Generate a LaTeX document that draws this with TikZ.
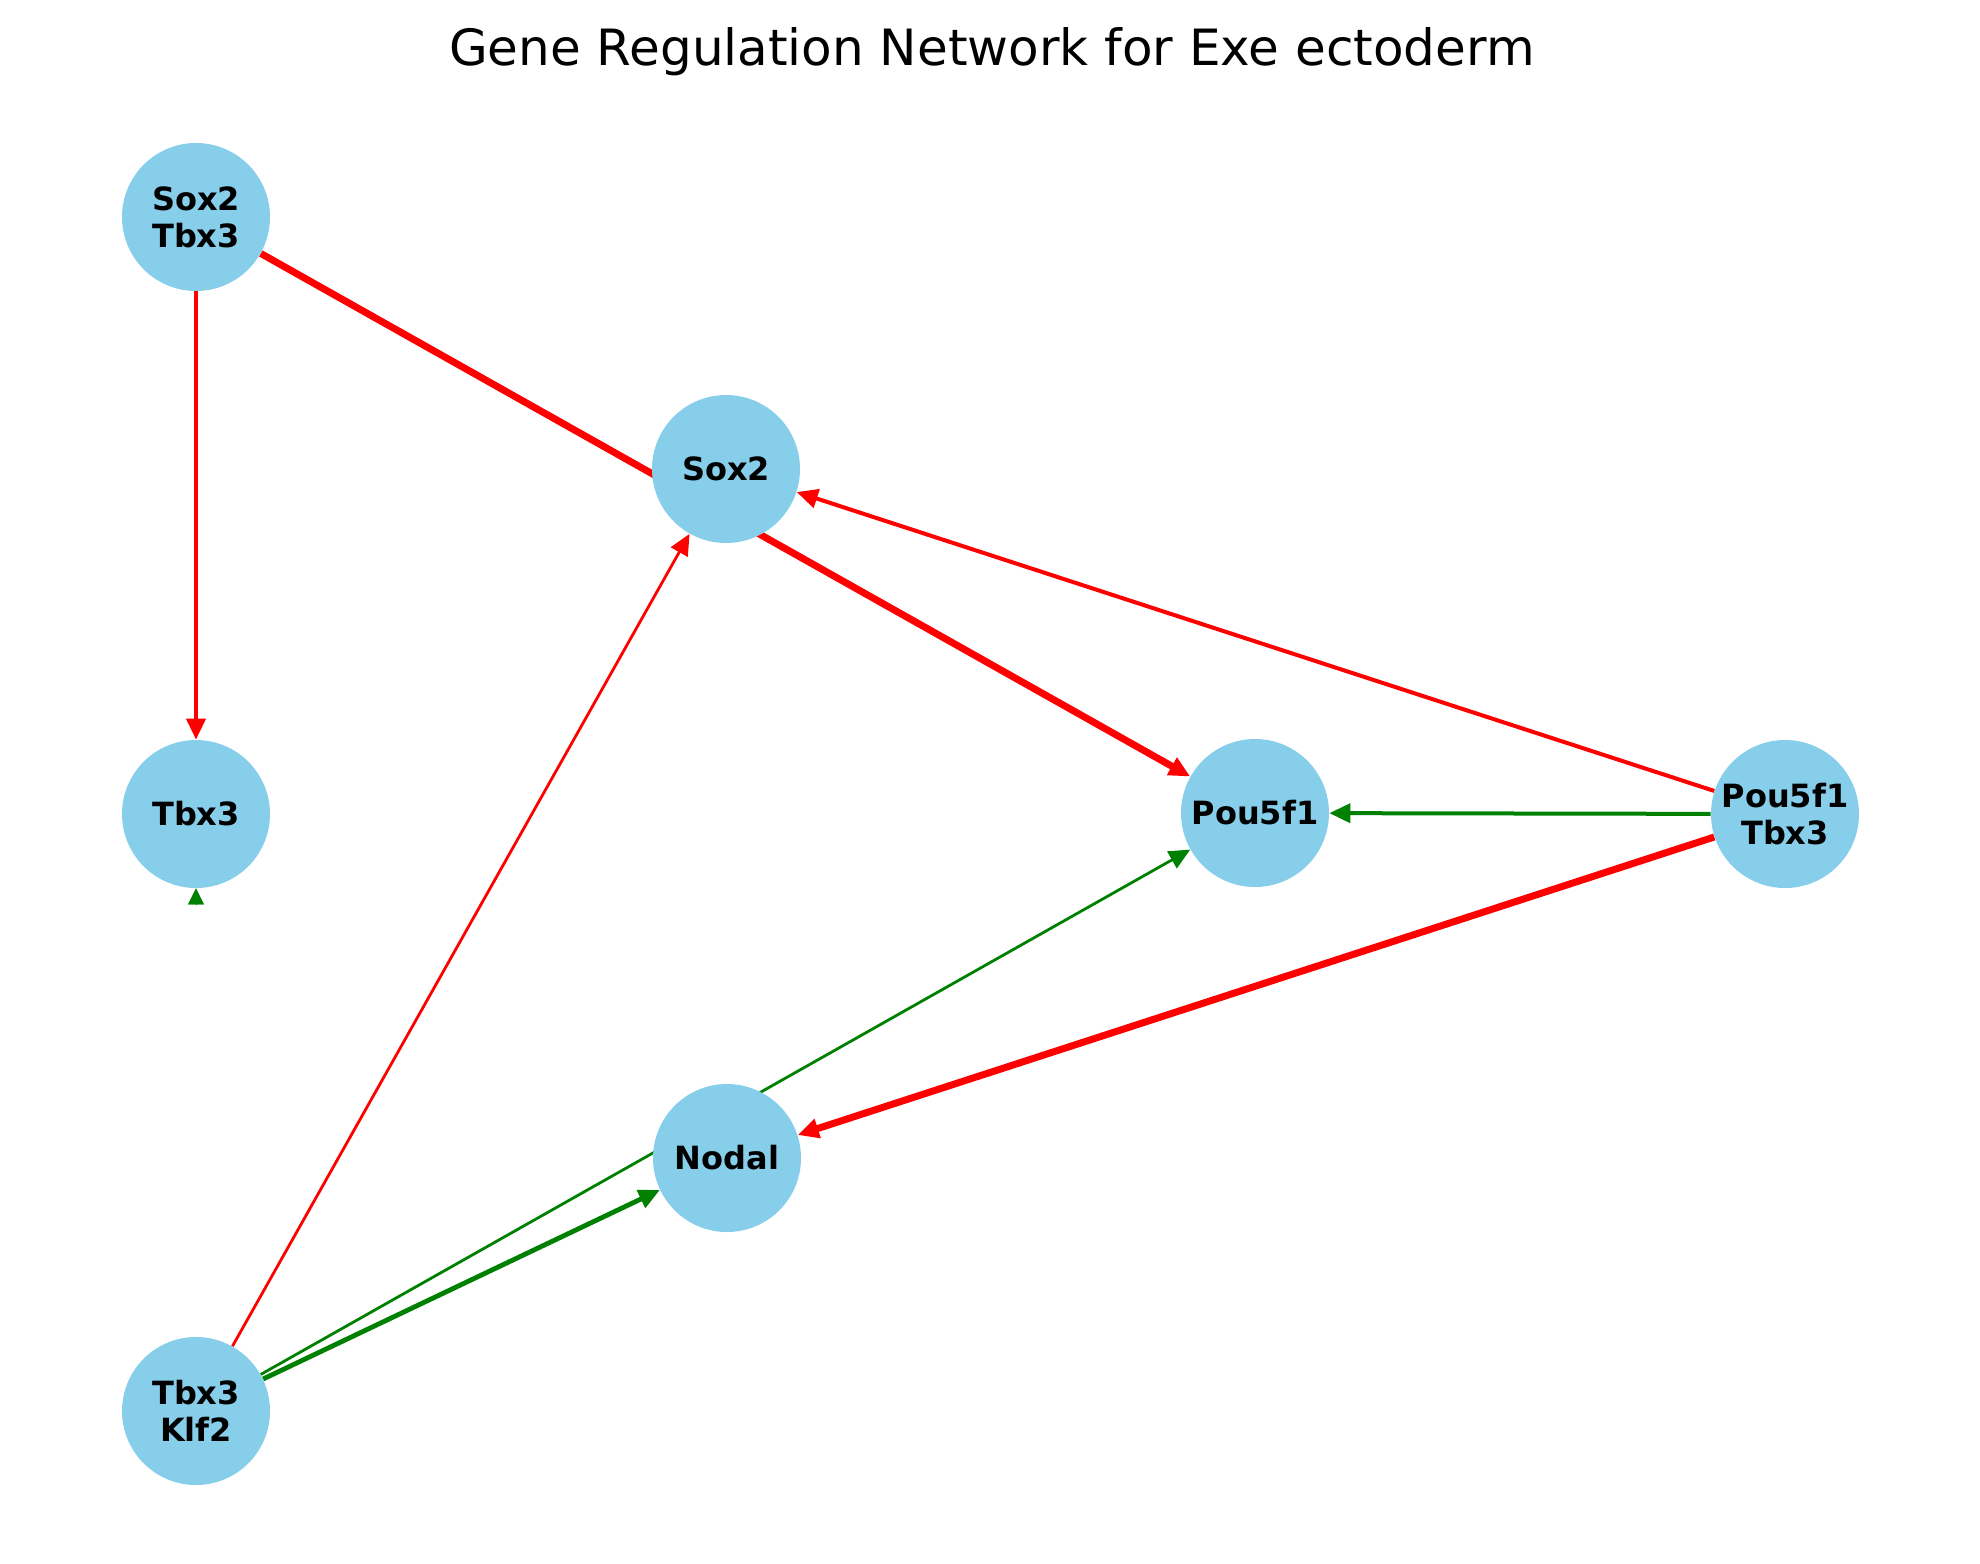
\documentclass[tikz,border=0pt]{standalone}
\usepackage{fontspec}
\setmainfont{DejaVu Sans}
\usetikzlibrary{arrows.meta,backgrounds}
\definecolor{skyblue}{HTML}{87CEEB}
\definecolor{edgered}{HTML}{FF0000}
\definecolor{edgegreen}{HTML}{008000}
\begin{document}
\begin{tikzpicture}[x=0.5pt, y=-0.5pt,
		gene/.style={circle, fill=skyblue, minimum size=74pt, inner sep=0pt, align=center,
			font=\fontsize{16}{18.5}\selectfont\bfseries},
		arr/.style={-{Triangle[length=10.5pt, width=9.5pt]}},
		wthick/.style={line width=3.5pt},
		wmid/.style={line width=2.4pt},
		wnorm/.style={line width=2pt},
		wthin/.style={line width=1.4pt}]
	\useasboundingbox (0,0) rectangle (1980,1563);
	
	\node[font=\fontsize{25}{29}\selectfont] at (992,52) (title) {Gene Regulation Network for Exe ectoderm};
	
	\node[gene] at (196,217) (st) {Sox2\\Tbx3};
	\node[gene] at (726,469) (sox) {Sox2};
	\node[gene] at (196,814) (tbx) {Tbx3};
	\node[gene] at (1255,813) (pou) {Pou5f1};
	\node[gene] at (1785,814) (pt) {Pou5f1\\Tbx3};
	\node[gene] at (727,1158) (nodal) {Nodal};
	\node[gene] at (196,1411) (tk) {Tbx3\\Klf2};
	\coordinate (loop) at (196,904);
	
	\begin{pgfonlayer}{background}
		\draw[edgered, wthick, arr] (st) -- (pou);
		\draw[edgered, wnorm, arr] (st) -- (tbx);
		\draw[edgered, wnorm, arr] (pt) -- (sox);
		\draw[edgegreen, wnorm, arr] (pt) -- (pou);
		\draw[edgered, wthick, arr] (pt) -- (nodal);
		\draw[edgered, wthin, arr] (tk) -- (sox);
		\draw[edgegreen, wmid, arr] (tk) -- (nodal);
		\draw[edgegreen, wthin, arr] (tk) -- (pou);
		\draw[edgegreen, line width=0.1pt, -{Triangle[length=8pt, width=8pt]}] (loop) -- (tbx);
	\end{pgfonlayer}
\end{tikzpicture}
\end{document}
